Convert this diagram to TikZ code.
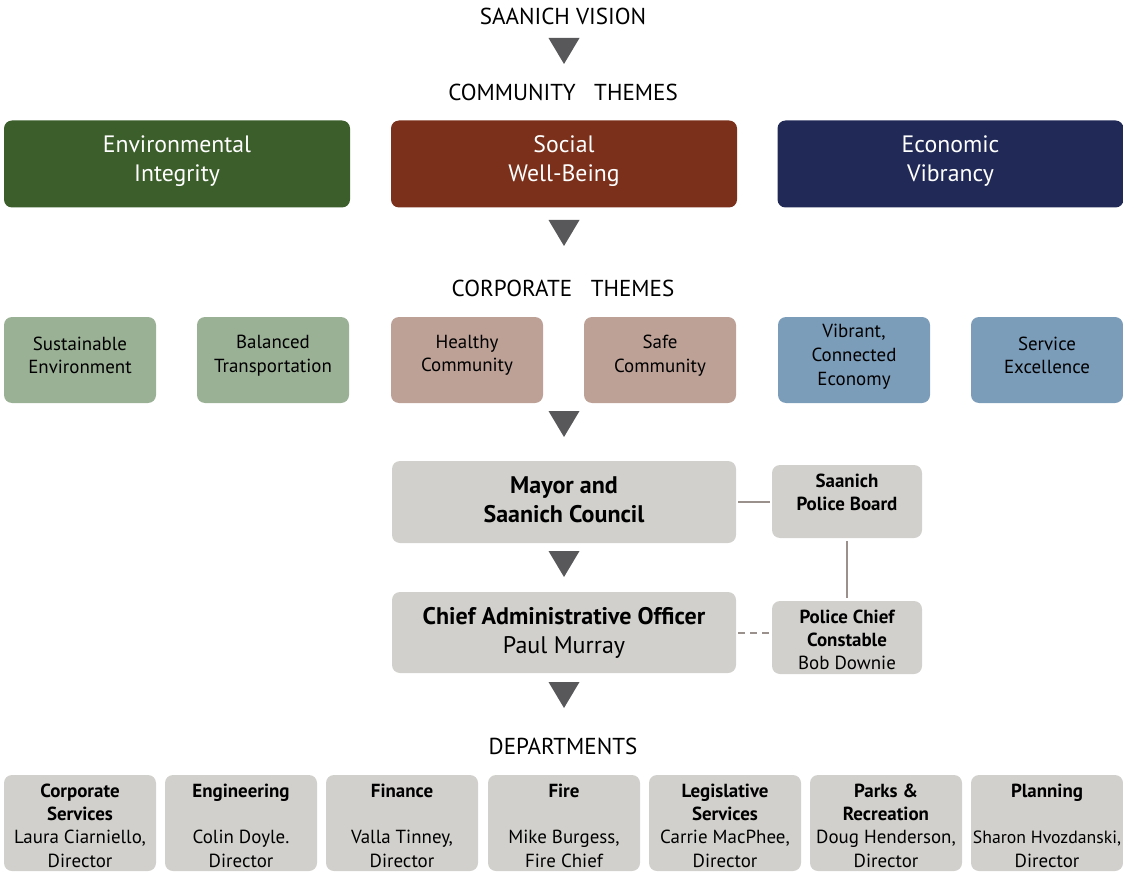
\documentclass[tikz,border=0pt]{standalone}
\usepackage{fontspec}
\setmainfont{PT Sans}
\definecolor{envgreen}{HTML}{3B5E2B}
\definecolor{socbrown}{HTML}{7A301A}
\definecolor{econavy}{HTML}{212A56}
\definecolor{ltgreen}{HTML}{9BB196}
\definecolor{ltpink}{HTML}{BDA197}
\definecolor{ltblue}{HTML}{7B9DBA}
\definecolor{boxgray}{HTML}{D1D0CC}
\definecolor{trigray}{HTML}{58585A}
\definecolor{linegray}{HTML}{9B918C}
\begin{document}
\begin{tikzpicture}[x=0.75pt,y=-0.75pt,
  bx/.style={rectangle, rounded corners=6pt, inner sep=0pt, align=center},
  lbl/.style={inner sep=0pt, align=center},
  hdr/.style={inner sep=0pt, font=\fontsize{17.3}{20}\selectfont},
  ctheme/.style={bx, minimum width=346*0.75pt, minimum height=87*0.75pt},
  cttext/.style={lbl, text=white, font=\fontsize{17.8}{21.75}\selectfont},
  corp/.style={bx, minimum width=152*0.75pt, minimum height=86*0.75pt},
  ctext/.style={lbl, font=\fontsize{14.2}{17.8}\selectfont},
  gbox/.style={bx, fill=boxgray},
  bigbox/.style={gbox, minimum width=344*0.75pt, minimum height=82*0.75pt},
  btext/.style={lbl, font=\fontsize{18}{21.75}\selectfont},
  pbox/.style={gbox, minimum width=150*0.75pt, minimum height=73*0.75pt},
  ptext/.style={lbl, font=\fontsize{14.2}{17.25}\selectfont},
  dept/.style={gbox, minimum width=152*0.75pt, minimum height=96*0.75pt},
  dtext/.style={lbl, font=\fontsize{14.2}{17.5}\selectfont},
  tri/.style={fill=trigray},
  conn/.style={draw=linegray, line width=1.5pt, shorten >=1.5pt, shorten <=1.5pt}
]
\useasboundingbox (0,0) rectangle (1123,873);

% headings
\node[hdr] (vision) at (563,16) {SAANICH VISION};
\fill[tri] (548.5,38) -- (579.5,38) -- (564,64) -- cycle;
\node[hdr] (cth) at (563,92) {COMMUNITY\ \ \ THEMES};

% community themes
\node[ctheme, fill=envgreen, label={[cttext, yshift=2pt]center:{Environmental\\Integrity}}] (env) at (177,164) {};
\node[ctheme, fill=socbrown, label={[cttext, yshift=2pt]center:{Social\\Well-Being}}] (soc) at (564,164) {};
\node[ctheme, fill=econavy, label={[cttext, yshift=2pt]center:{Economic\\Vibrancy}}] (eco) at (950.5,164) {};

\fill[tri] (548.5,220) -- (579.5,220) -- (564,246) -- cycle;
\node[hdr] (corpth) at (563,288) {CORPORATE\ \ \ THEMES};

% corporate themes
\node[corp, fill=ltgreen, label={[ctext, yshift=3.5pt]center:{Sustainable\\Environment}}] (c1) at (80,360) {};
\node[corp, fill=ltgreen, label={[ctext, yshift=3.5pt]center:{Balanced\\Transportation}}] (c2) at (273,360) {};
\node[corp, fill=ltpink, label={[ctext, yshift=3.5pt]center:{Healthy\\Community}}] (c3) at (467,360) {};
\node[corp, fill=ltpink, label={[ctext, yshift=3.5pt]center:{Safe\\Community}}] (c4) at (660,360) {};
\node[corp, fill=ltblue, label={[ctext, yshift=2.5pt]center:{Vibrant,\\Connected\\Economy}}] (c5) at (854,360) {};
\node[corp, fill=ltblue, label={[ctext, yshift=3.5pt]center:{Service\\Excellence}}] (c6) at (1047,360) {};

\fill[tri] (548.5,411) -- (579.5,411) -- (564,437) -- cycle;

% council / CAO / police
\node[bigbox, label={[btext, yshift=1.5pt]center:{\bfseries Mayor and\\\bfseries Saanich Council}}] (mayor) at (564,502) {};
\node[pbox, label={[ptext, yshift=-2pt]center:{\bfseries Saanich\\\bfseries Police Board\\\mbox{}}}] (pb) at (847,501.5) {};
\fill[tri] (548.5,551) -- (579.5,551) -- (564,577) -- cycle;
\node[bigbox, minimum height=81*0.75pt, label={[btext]center:{\bfseries Chief Administrative Officer\\Paul Murray}}] (cao) at (564,632.5) {};
\node[pbox, label={[ptext, yshift=-1.5pt]center:{\bfseries Police Chief\\\bfseries Constable\\Bob Downie}}] (chief) at (847,637.5) {};

\draw[conn] (mayor.east) -- (mayor.east -| pb.west);
\draw[conn, shorten >=2pt, shorten <=2pt] (pb.south) -- (chief.north);
\draw[conn, dashed, dash pattern=on 5pt off 4pt] (cao.east) -- (cao.east -| chief.west);

\fill[tri] (548.5,682) -- (579.5,682) -- (564,708) -- cycle;
\node[hdr] (deptth) at (563,746) {DEPARTMENTS};

% departments
\node[dept, label={[dtext, yshift=-2pt]center:{\bfseries Corporate\\\bfseries Services\\Laura Ciarniello,\\Director}}] (d1) at (80,823) {};
\node[dept, label={[dtext, yshift=-2pt]center:{\bfseries Engineering\\\mbox{}\\Colin Doyle.\\Director}}] (d2) at (241,823) {};
\node[dept, label={[dtext, yshift=-2pt]center:{\bfseries Finance\\\mbox{}\\Valla Tinney,\\Director}}] (d3) at (402,823) {};
\node[dept, label={[dtext, yshift=-2pt]center:{\bfseries Fire\\\mbox{}\\Mike Burgess,\\Fire Chief}}] (d4) at (564,823) {};
\node[dept, label={[dtext, yshift=-2pt]center:{\bfseries Legislative\\\bfseries Services\\Carrie MacPhee,\\Director}}] (d5) at (725,823) {};
\node[dept, label={[dtext, yshift=-2pt]center:{\bfseries Parks \&\\\bfseries Recreation\\Doug Henderson,\\Director}}] (d6) at (886,823) {};
\node[dept, label={[dtext, yshift=-2pt]center:{\bfseries Planning\\\mbox{}\\{\fontsize{13.3}{17.5}\selectfont Sharon Hvozdanski,}\\Director}}] (d7) at (1047,823) {};
\end{tikzpicture}
\end{document}
